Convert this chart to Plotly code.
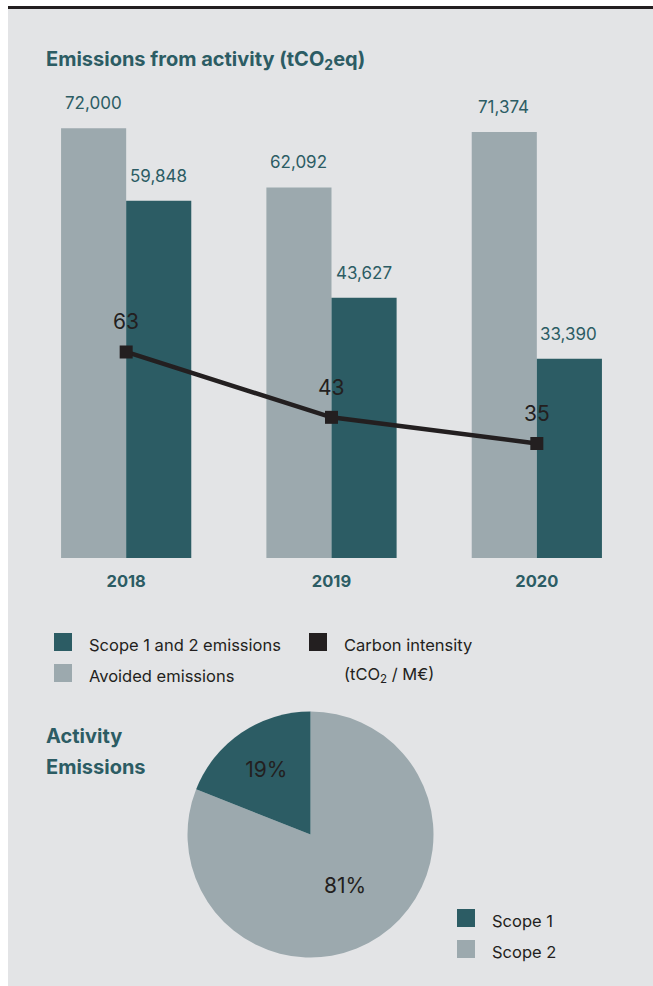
import plotly.graph_objects as go

# ---------------- data ----------------
years = ["2018", "2019", "2020"]
avoided = [72000, 62092, 71374]
scope12 = [59848, 43627, 33390]
intensity = [63, 43, 35]

# pie drawn clockwise from 12 o'clock: Scope 2 first, then Scope 1
pie_labels = ["Scope 2", "Scope 1"]
pie_values = [81, 19]

# ---------------- style ----------------
W, H = 653, 986
TEAL = "#2c5c64"
GREY = "#9ca9ae"
BG = "#e3e4e6"
DARK = "#231f20"
FONT = "Inter"

def px(x):
    return x / W

def py(y):
    return 1 - y / H

fig = go.Figure()

fig.add_trace(go.Bar(x=years, y=avoided, name="Avoided emissions",
                     marker=dict(color=GREY, line=dict(width=0)),
                     hoverinfo="skip"))
fig.add_trace(go.Bar(x=years, y=scope12, name="Scope 1 and 2 emissions",
                     marker=dict(color=TEAL, line=dict(width=0)),
                     hoverinfo="skip"))
fig.add_trace(go.Scatter(x=years, y=intensity, yaxis="y2", mode="lines+markers",
                         line=dict(color=DARK, width=4.5),
                         marker=dict(symbol="square", size=13, color=DARK),
                         name="Carbon intensity", hoverinfo="skip"))

fig.add_trace(go.Pie(labels=pie_labels, values=pie_values, sort=False,
                     direction="clockwise", rotation=0,
                     marker=dict(colors=[GREY, TEAL], line=dict(width=0)),
                     textinfo="percent", textposition="inside",
                     insidetextorientation="horizontal",
                     textfont=dict(family=FONT, size=21, color=DARK),
                     domain=dict(x=[px(187.5), px(433.5)], y=[py(957.5), py(711.5)]),
                     showlegend=False, hoverinfo="skip"))

annotations = []
# bar value labels (x given as category index)
for i, yr in enumerate(years):
    annotations.append(dict(x=i, y=avoided[i], xref="x", yref="y", text=f"{avoided[i]:,}",
                            showarrow=False, xshift=-33, yshift=25, yanchor="middle",
                            font=dict(family=FONT, size=17, color=TEAL)))
    annotations.append(dict(x=i, y=scope12[i], xref="x", yref="y", text=f"{scope12[i]:,}",
                            showarrow=False, xshift=32, yshift=25, yanchor="middle",
                            font=dict(family=FONT, size=17, color=TEAL)))
    annotations.append(dict(x=i, y=intensity[i], xref="x", yref="y2", text=str(intensity[i]),
                            showarrow=False, yshift=30, yanchor="middle",
                            font=dict(family=FONT, size=21, color=DARK)))

# titles
annotations.append(dict(x=px(44), y=py(60), xref="paper", yref="paper", xanchor="left",
                        yanchor="middle", showarrow=False,
                        text="<b>Emissions from activity (tCO<sub>2</sub>eq)</b>",
                        font=dict(family=FONT, size=20, color=TEAL)))
for j, t in enumerate(["Activity", "Emissions"]):
    annotations.append(dict(x=px(44), y=py(736 + 31 * j), xref="paper", yref="paper",
                            xanchor="left", yanchor="middle", showarrow=False,
                            text=f"<b>{t}</b>",
                            font=dict(family=FONT, size=20, color=TEAL)))

# frame + custom legends
shapes = [
    dict(type="rect", xref="paper", yref="paper", x0=0, x1=1, y0=py(6), y1=1,
         fillcolor="white", line=dict(width=0), layer="below"),
    dict(type="rect", xref="paper", yref="paper", x0=0, x1=px(8), y0=0, y1=1,
         fillcolor="white", line=dict(width=0), layer="below"),
    dict(type="rect", xref="paper", yref="paper", x0=px(8), x1=1, y0=py(9), y1=py(6),
         fillcolor=DARK, line=dict(width=0), layer="below"),
]
legend_items = [
    (54, 642, TEAL, ["Scope 1 and 2 emissions"]),
    (54, 673, GREY, ["Avoided emissions"]),
    (309, 642, DARK, ["Carbon intensity", "(tCO<sub>2</sub> / M€)"]),
    (457, 918, TEAL, ["Scope 1"]),
    (457, 949, GREY, ["Scope 2"]),
]
for (x0, yc, col, lines) in legend_items:
    shapes.append(dict(type="rect", xref="paper", yref="paper", x0=px(x0), x1=px(x0 + 18),
                       y0=py(yc + 9), y1=py(yc - 9), fillcolor=col, line=dict(width=0)))
    for j, t in enumerate(lines):
        annotations.append(dict(x=px(x0 + 33), y=py(yc + 3 + 30 * j), xref="paper", yref="paper",
                                xanchor="left", yanchor="middle", showarrow=False, text=t,
                                font=dict(family=FONT, size=16.5, color=DARK)))

fig.update_layout(
    width=W, height=H,
    margin=dict(l=0, r=0, t=0, b=0),
    paper_bgcolor=BG, plot_bgcolor="rgba(0,0,0,0)",
    barmode="group", bargap=75 / 205, bargroupgap=0,
    showlegend=False,
    xaxis=dict(type="category", range=[-0.5, 2.5], domain=[px(23.5), px(639.5)],
               showgrid=False, zeroline=False, showline=False, ticks="",
               ticklabelstandoff=11,
               tickfont=dict(family=FONT, size=16.5, color=TEAL, weight="bold"),
               fixedrange=True),
    yaxis=dict(domain=[py(558), py(100)], range=[0, 76740], visible=False, fixedrange=True),
    yaxis2=dict(domain=[py(558), py(100)], range=[0, 140], overlaying="y", visible=False,
                fixedrange=True),
    annotations=annotations,
    shapes=shapes,
    font=dict(family=FONT),
)

fig.write_html("out.html", config={"displayModeBar": False},
               post_script="document.body.style.margin='0';")
